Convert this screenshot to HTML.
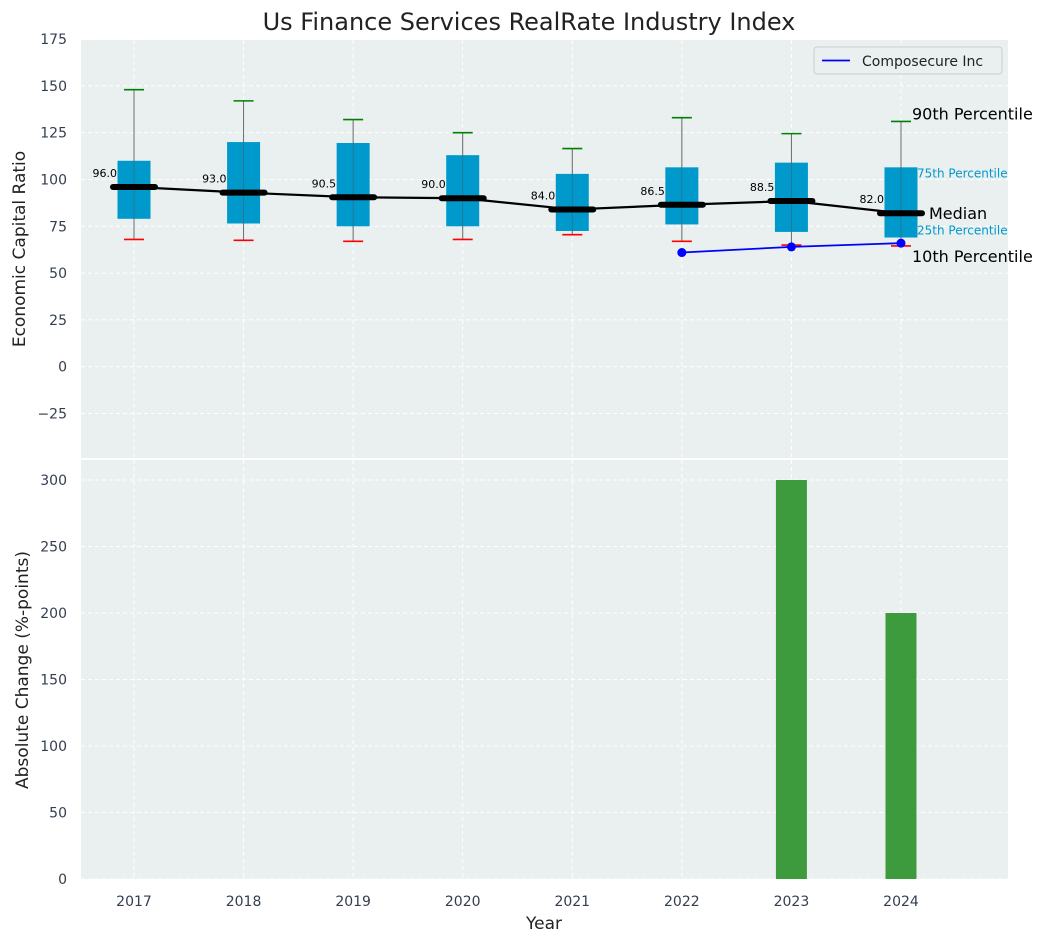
<!DOCTYPE html>
<html><head><meta charset="utf-8"><style>
body{margin:0;background:#fff;font-family:"Liberation Sans","DejaVu Sans",sans-serif}
svg text{font-family:"DejaVu Sans","Liberation Sans",sans-serif}
</style></head><body>
<svg id="c" width="1047" height="942" xmlns="http://www.w3.org/2000/svg"></svg>
<script>
const years=[2017,2018,2019,2020,2021,2022,2023,2024];
const q1=[79,76.5,75,75,72.5,76,72,69];
const q3=[110,120,119.5,113,103,106.5,109,106.5];
const wLow=[68,67.5,67,68,70.5,67,65,64.5];
const wHigh=[148,142,132,125,116.5,133,124.5,131];
const medians=[96.0,93.0,90.5,90.0,84.0,86.5,88.5,82.0];
const compYears=[2022,2023,2024];
const compVals=[61,64,66];
const changeYears=[2023,2024];
const changeVals=[300,200];
const topTicks=[-25,0,25,50,75,100,125,150,175];
const botTicks=[0,50,100,150,200,250,300];

const NS="http://www.w3.org/2000/svg";
const svg=document.getElementById('c');
function el(t,a,txt){const e=document.createElementNS(NS,t);for(const k in a)e.setAttribute(k,a[k]);if(txt!==undefined)e.textContent=txt;svg.appendChild(e);return e;}
const L=81,R=1008;
const X=v=>134+(v-2017)*109.57;
const Y1=v=>366.7-v*1.872;
const Y2=v=>879-v*1.33;

let e=el('rect',{x:L,y:40,width:R-L,height:418,fill:'#eaeff0'});

e=el('rect',{x:L,y:460,width:R-L,height:419,fill:'#eaeff0'});


topTicks.forEach(t=>{const y=Y1(t);
 e=el('line',{x1:L,x2:R,y1:y,y2:y,stroke:'#fff','stroke-dasharray':'4,3','stroke-width':1});
 
 e=el('text',{x:67,y:y+5,'text-anchor':'end','font-size':14,fill:'#333e50'},t<0?'\u2212'+(-t):t);
 });
botTicks.forEach(t=>{const y=Y2(t);
 e=el('line',{x1:L,x2:R,y1:y,y2:y,stroke:'#fff','stroke-dasharray':'4,3','stroke-width':1});
 
 e=el('text',{x:67,y:y+5,'text-anchor':'end','font-size':14,fill:'#333e50'},t);
 });
years.forEach(yr=>{const x=X(yr);
 [[40,458],[460,879]].forEach(([a,b])=>{e=el('line',{x1:x,x2:x,y1:a,y2:b,stroke:'#fff','stroke-dasharray':'4,3'});
 });
 e=el('text',{x:x,y:906,'text-anchor':'middle','font-size':14,fill:'#333e50'},yr);
 });

years.forEach((yr,i)=>{const x=X(yr);
 e=el('line',{x1:x,x2:x,y1:Y1(wLow[i]),y2:Y1(wHigh[i]),stroke:'#888','stroke-width':1});
 
 e=el('rect',{x:x-16.5,y:Y1(q3[i]),width:33,height:Y1(q1[i])-Y1(q3[i]),fill:'#0099cc'});
 
 e=el('line',{x1:x,x2:x,y1:Y1(wLow[i]),y2:Y1(wHigh[i]),stroke:'#555','stroke-width':0.8,opacity:0.6});
 
 e=el('line',{x1:x-10,x2:x+10,y1:Y1(wHigh[i]),y2:Y1(wHigh[i]),stroke:'green','stroke-width':1.6});
 
 e=el('line',{x1:x-10,x2:x+10,y1:Y1(wLow[i]),y2:Y1(wLow[i]),stroke:'red','stroke-width':1.6});
 
});
e=el('polyline',{points:years.map((yr,i)=>X(yr)+','+Y1(medians[i])).join(' '),fill:'none',stroke:'#000','stroke-width':2.2});

years.forEach((yr,i)=>{const x=X(yr),y=Y1(medians[i]);
 e=el('line',{x1:x-21,x2:x+21,y1:y,y2:y,stroke:'#000','stroke-width':6,'stroke-linecap':'round'});
 
 e=el('text',{x:x-17,y:y-10,'text-anchor':'end','font-size':11,fill:'#000'},medians[i].toFixed(1));
 });
e=el('polyline',{points:compYears.map((yr,i)=>X(yr)+','+Y1(compVals[i])).join(' '),fill:'none',stroke:'blue','stroke-width':1.8});

compYears.forEach((yr,i)=>{e=el('circle',{cx:X(yr),cy:Y1(compVals[i]),r:4.5,fill:'blue'});
 });
const xa=X(2024);
[['90th Percentile',xa+11,Y1(wHigh[7])-2,16,'#000'],['75th Percentile',xa+16,Y1(q3[7])+10,12,'#0099cc'],['Median',xa+28,Y1(medians[7])+6,16,'#000'],['25th Percentile',xa+16,Y1(q1[7])-3,12,'#0099cc'],['10th Percentile',xa+11,Y1(wLow[7])+16,16,'#000']].forEach(a=>{
 e=el('text',{x:a[1],y:a[2],'font-size':a[3],fill:a[4]},a[0]);
 });
changeYears.forEach((yr,i)=>{const x=X(yr);
 e=el('rect',{x:x-15.5,y:Y2(changeVals[i]),width:31,height:Y2(0)-Y2(changeVals[i]),fill:'#3d9b3d'});
 });
e=el('rect',{x:814,y:47,width:188,height:27,fill:'#eaeff0',stroke:'#ccc',rx:3});

e=el('line',{x1:822,x2:850,y1:60.5,y2:60.5,stroke:'blue','stroke-width':1.8});

e=el('text',{x:862,y:66,'font-size':14,fill:'#222'},'Composecure Inc');

e=el('text',{x:529,y:30,'text-anchor':'middle','font-size':24,fill:'#222'},'Us Finance Services RealRate Industry Index');

e=el('text',{x:544,y:929,'text-anchor':'middle','font-size':17,fill:'#222'},'Year');

e=el('text',{x:0,y:0,'text-anchor':'middle','font-size':17,fill:'#222',transform:'translate(25,249) rotate(-90)'},'Economic Capital Ratio');

e=el('text',{x:0,y:0,'text-anchor':'middle','font-size':17,fill:'#222',transform:'translate(28,670) rotate(-90)'},'Absolute Change (%-points)');

</script>
</body></html>
